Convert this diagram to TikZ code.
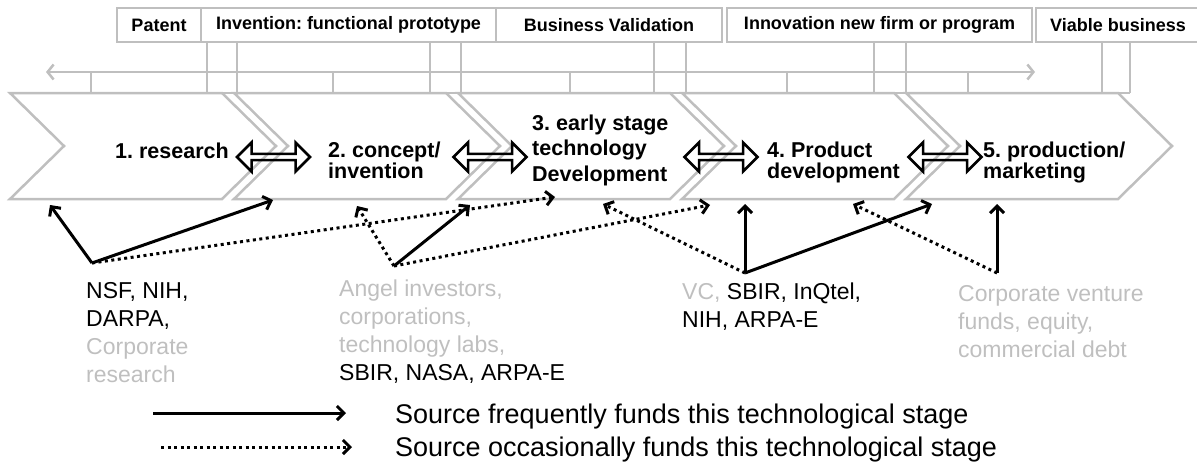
\documentclass[tikz,border=0pt]{standalone}
\usepackage{fontspec}
\setmainfont{Liberation Sans}
\usetikzlibrary{arrows.meta, shapes.arrows}
\definecolor{ltgray}{HTML}{BFBFBF}
\frenchspacing

\begin{document}
\begin{tikzpicture}[x=1pt, y=-1pt, >={Straight Barb[length=7pt,width=14pt]},
  frame/.style={draw=ltgray, line width=2.5pt},
  phase/.style={draw=ltgray, line width=2.5pt, minimum height=34pt, inner sep=0pt, font=\bfseries\fontsize{18}{20}\selectfont},
  stage/.style={anchor=base west, align=left, inner sep=0pt, font=\bfseries\fontsize{21.5}{21}\selectfont},
  link/.style={draw, double arrow, line width=2.5pt, minimum width=29pt, minimum height=73pt, double arrow head extend=4.5pt, inner sep=0pt},
  often/.style={->, line width=3pt},
  seldom/.style={->, line width=3pt, dash pattern=on 3pt off 3.5pt},
  source/.style={anchor=base west, align=left, inner sep=0pt, font=\fontsize{23}{28}\selectfont},
  note/.style={anchor=base west, inner sep=0pt, font=\fontsize{27}{30}\selectfont}]
\useasboundingbox (0,0) rectangle (1197,463);
% phases along the top
\node[phase, minimum width=84pt] (patent) at (159,25) {Patent};
\node[phase, minimum width=295pt] (invention) at (348.5,25) {Invention: functional prototype};
\node[phase, minimum width=226pt] (validation) at (609,25) {Business Validation};
\node[phase, minimum width=305pt] (innovation) at (879.5,25) {Innovation new firm or program};
\node[phase, minimum width=164pt] (viable) at (1118,25) {Viable business};
% time line and ticks
\draw[frame, {Straight Barb[length=6pt,width=15pt]}-{Straight Barb[length=6pt,width=15pt]}] (46,72) -- (1035,72);
\draw[frame] (10,93) -- (1130,93);
\foreach \x in {91,333,570,787,968} \draw[frame] (\x,72) -- (\x,93);
\foreach \x/\y in {207/237,430/461,654/686,874/906,1102/1130}
  \draw[frame] (\x,42) -- (\x,93) (\y,42) -- (\y,93);
% stage chevrons
\foreach \x in {10,234,458,682,906}
  \draw[frame] (\x,93) -- ++(212,0) -- ++(54,53) -- ++(-54,53) -- ++(-212,0) -- ++(54,-53) -- cycle;
\node[stage] (research) at (115,158) {1. research};
\node[stage] (concept) at (328,178) {2. concept/\\invention};
\node[stage, font=\bfseries\fontsize{21.5}{25.5}\selectfont] (early) at (532,181) {3. early stage\\technology\\Development};
\node[stage] (product) at (767,178) {4. Product\\development};
\node[stage] (market) at (983,178) {5. production/\\marketing};
\node[link] (l12) at (273.5,157) {};
\node[link] (l23) at (490,157) {};
\node[link] (l34) at (721,157) {};
\node[link] (l45) at (945,157) {};
% funding sources
\coordinate (nsf) at (92,263);
\coordinate (angel) at (394,266);
\coordinate (vc) at (745,273);
\coordinate (corp) at (997,273);
\coordinate (t1a) at (50,205);
\coordinate (t2a) at (273,200);
\coordinate (t3a) at (555,197);
\coordinate (t2b) at (357,206);
\coordinate (t3b) at (470,205);
\coordinate (t4b) at (710,205);
\coordinate (t3c) at (603,204);
\coordinate (t4c) at (745,204);
\coordinate (t5c) at (932,204);
\coordinate (t4d) at (853,204);
\coordinate (t5d) at (997,204);
\draw[often] (nsf) -- (t1a);
\draw[often] (nsf) -- (t2a);
\draw[seldom] (nsf) -- (t3a);
\draw[seldom] (angel) -- (t2b);
\draw[often] (angel) -- (t3b);
\draw[seldom] (angel) -- (t4b);
\draw[seldom] (vc) -- (t3c);
\draw[often] (vc) -- (t4c);
\draw[often] (vc) -- (t5c);
\draw[seldom] (corp) -- (t4d);
\draw[often] (corp) -- (t5d);
\node[source] (nsflbl) at (86,382) {NSF, NIH,\\DARPA,\\\textcolor{ltgray}{Corporate}\\\textcolor{ltgray}{research}};
\node[source] (angellbl) at (339,380) {\textcolor{ltgray}{Angel investors,}\\\textcolor{ltgray}{corporations,}\\\textcolor{ltgray}{technology labs,}\\SBIR, NASA, ARPA-E};
\node[source] (vclbl) at (682,327) {\textcolor{ltgray}{VC,} SBIR, InQtel,\\NIH, ARPA-E};
\node[source, text=ltgray] (corplbl) at (958,357) {Corporate venture\\funds, equity,\\commercial debt};
% legend
\coordinate (k1a) at (153,413);
\coordinate (k1b) at (346,413);
\coordinate (k2a) at (161,447);
\coordinate (k2b) at (352,447);
\draw[often] (k1a) -- (k1b);
\draw[seldom] (k2a) -- (k2b);
\node[note] (leg1) at (395,423) {Source frequently funds this technological stage};
\node[note] (leg2) at (395,456) {Source occasionally funds this technological stage};
\end{tikzpicture}
\end{document}
